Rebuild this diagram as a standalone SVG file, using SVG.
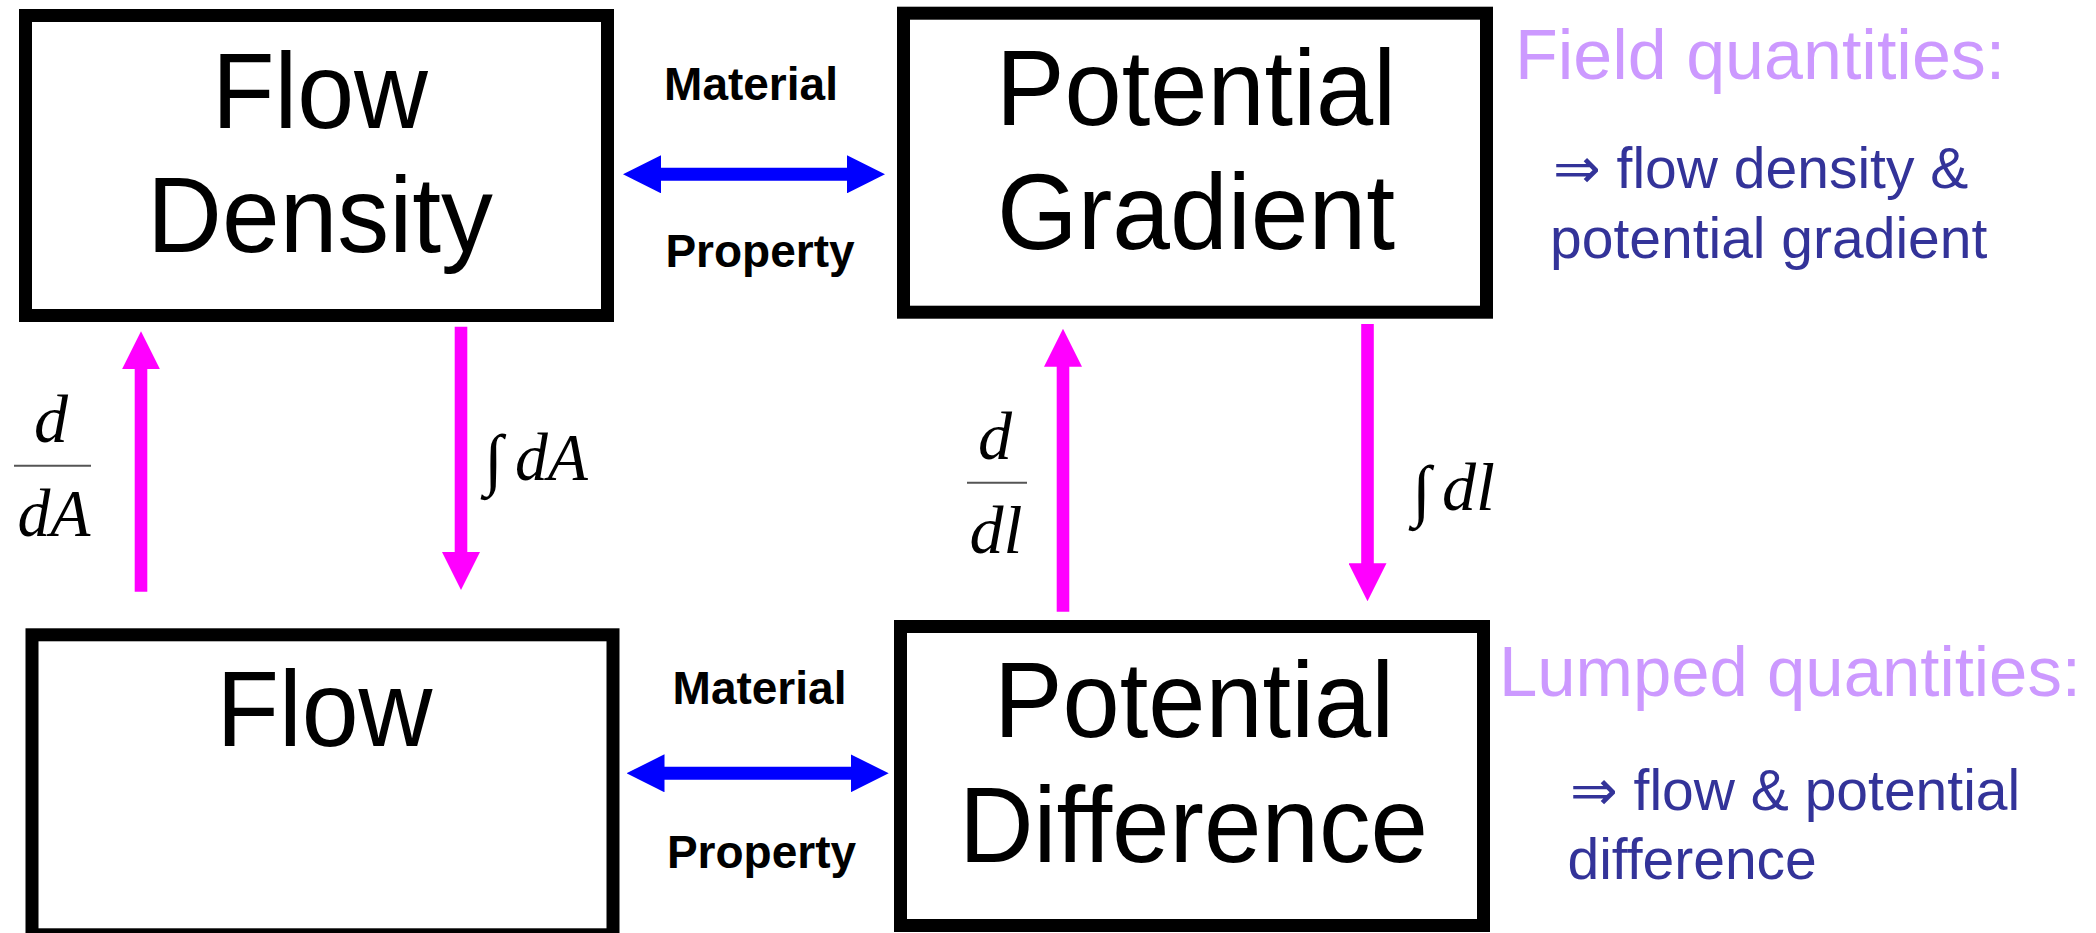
<svg xmlns="http://www.w3.org/2000/svg" width="2096" height="933" viewBox="0 0 2096 933">
<style>
.box{fill:#fff;stroke:#000;stroke-width:13}
.big{font-family:"Liberation Sans",Arial,sans-serif;font-size:107px;fill:#000;text-anchor:middle}
.mp{font-family:"Liberation Sans",Arial,sans-serif;font-size:46px;font-weight:bold;fill:#000;text-anchor:middle}
.head{font-family:"Liberation Sans",Arial,sans-serif;font-size:70px;fill:#cc99ff}
.sub{font-family:"Liberation Sans",Arial,"DejaVu Sans",sans-serif;font-size:57px;fill:#333399}
.math{font-family:"Liberation Serif","Times New Roman",serif;font-style:italic;font-size:68px;fill:#000}
.mc{text-anchor:middle}
.frac{stroke:#555;stroke-width:2}
.mag{stroke:#ff00ff;stroke-width:12.6;fill:none;marker-end:url(#mh)}
.blu{stroke:#0000ff;stroke-width:13;fill:none;marker-start:url(#bh);marker-end:url(#bh)}
</style>
<defs>
<marker id="mh" markerUnits="userSpaceOnUse" viewBox="0 0 38 38" markerWidth="38" markerHeight="38" refX="1" refY="19" orient="auto-start-reverse"><path d="M0,0 L38,19 L0,38 z" fill="#ff00ff"/></marker>
<marker id="bh" markerUnits="userSpaceOnUse" viewBox="0 0 38 38" markerWidth="38" markerHeight="38" refX="1" refY="19" orient="auto-start-reverse"><path d="M0,0 L38,19 L0,38 z" fill="#0000ff"/></marker>
</defs>
<rect width="2096" height="933" fill="#fff"/>
<g id="flow-density">
<rect class="box" x="25.5" y="15.5" width="582" height="300"/>
<text class="big" x="320" y="128" textLength="216" lengthAdjust="spacingAndGlyphs">Flow</text>
<text class="big" x="320" y="252" textLength="346" lengthAdjust="spacingAndGlyphs">Density</text>
</g>
<g id="potential-gradient">
<rect class="box" x="903.5" y="13.2" width="583" height="299"/>
<text class="big" x="1196" y="125" textLength="400" lengthAdjust="spacingAndGlyphs">Potential</text>
<text class="big" x="1196" y="249" textLength="398" lengthAdjust="spacingAndGlyphs">Gradient</text>
</g>
<g id="flow">
<rect class="box" x="32" y="634.8" width="581" height="300"/>
<text class="big" x="324.5" y="746" textLength="216" lengthAdjust="spacingAndGlyphs">Flow</text>
</g>
<g id="potential-difference">
<rect class="box" x="900.5" y="626.5" width="583" height="299"/>
<text class="big" x="1194" y="737" textLength="400" lengthAdjust="spacingAndGlyphs">Potential</text>
<text class="big" x="1193.5" y="862" textLength="469" lengthAdjust="spacingAndGlyphs">Difference</text>
</g>
<g id="connectors">
<line class="blu" x1="660" y1="174.3" x2="848" y2="174.3"/>
<line class="blu" x1="663.5" y1="773.3" x2="851.7" y2="773.3"/>
<line class="mag" x1="141" y1="591.7" x2="141" y2="368.3"/>
<line class="mag" x1="461" y1="326.7" x2="461" y2="553"/>
<line class="mag" x1="1063" y1="611.7" x2="1063" y2="365.7"/>
<line class="mag" x1="1367.5" y1="324" x2="1367.5" y2="564.3"/>
</g>
<g id="labels">
<text class="mp" x="751" y="100">Material</text>
<text class="mp" x="760" y="266.7">Property</text>
<text class="mp" x="759.5" y="704">Material</text>
<text class="mp" x="761.5" y="868.3">Property</text>
<text class="math mc" x="51" y="441.7">d</text>
<line class="frac" x1="14" y1="465.7" x2="91" y2="465.7"/>
<text class="math mc" x="54" y="535.7" textLength="73" lengthAdjust="spacingAndGlyphs">dA</text>
<text class="math" x="484" y="482" font-size="88">∫</text>
<text class="math" x="515" y="480" textLength="73" lengthAdjust="spacingAndGlyphs">dA</text>
<text class="math mc" x="995" y="459.3">d</text>
<line class="frac" x1="967" y1="482.7" x2="1027" y2="482.7"/>
<text class="math mc" x="996" y="553.3">dl</text>
<text class="math" x="1412" y="513" font-size="88">∫</text>
<text class="math" x="1442" y="510">dl</text>
</g>
<g id="notes">
<text class="head" x="1515" y="79">Field quantities:</text>
<text class="sub" x="1553" y="188.3">⇒ flow density &amp;</text>
<text class="sub" x="1550" y="257.7">potential gradient</text>
<text class="head" x="1499" y="696" textLength="582" lengthAdjust="spacingAndGlyphs">Lumped quantities:</text>
<text class="sub" x="1570" y="810">⇒ flow &amp; potential</text>
<text class="sub" x="1567.5" y="879.3">difference</text>
</g>
</svg>
